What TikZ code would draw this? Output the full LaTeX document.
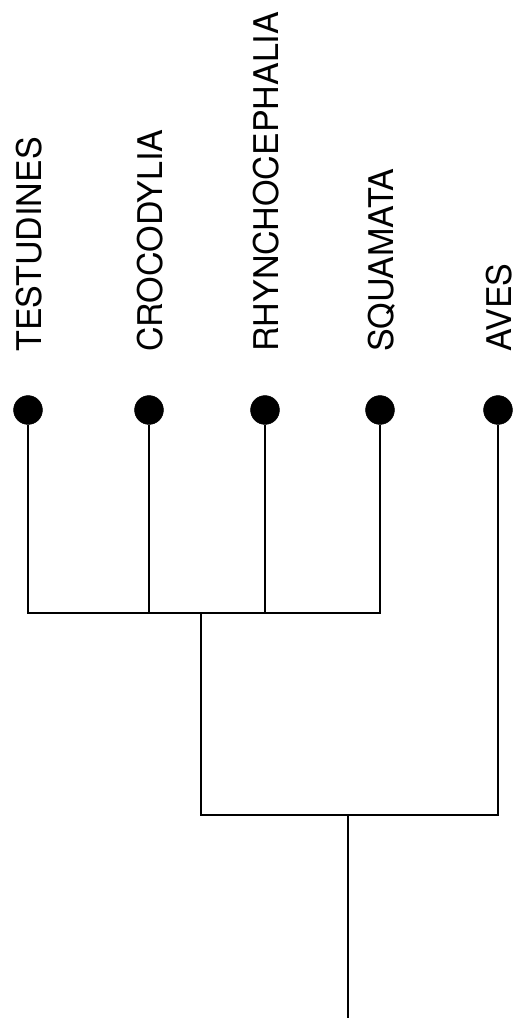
\documentclass[tikz,border=0pt]{standalone}
\usepackage{fontspec}
\setmainfont{TeX Gyre Heros}
\usetikzlibrary{positioning,calc}

\begin{document}
\begin{tikzpicture}
  [
    x=0.025cm, y=-0.025cm,
    Dot/.style={circle, draw=black, fill=black, inner sep=0pt, minimum size=0.72cm},
    Name/.style={rotate=90, anchor=base west, inner sep=0pt, font=\fontsize{24.2}{29}\selectfont},
    Branch/.style={draw, line width=2.1pt, line join=miter}
  ]
  \useasboundingbox (0,0) rectangle (520,1020);
  % Nodes
  \node[Dot] (testudines) at (28,410) {};
  \node[Dot] (crocodylia) at (149,410) {};
  \node[Dot] (rhynchocephalia) at (265,410) {};
  \node[Dot] (squamata) at (380,410) {};
  \node[Dot] (aves) at (498,410) {};
  % Labels
  \node[Name] (lTestudines) at (41,352) {TESTUDINES};
  \node[Name] (lCrocodylia) at (162,352) {CROCODYLIA};
  \node[Name] (lRhynchocephalia) at (278,352) {RHYNCHOCEPHALIA};
  \node[Name] (lSquamata) at (393,352) {SQUAMATA};
  \node[Name] (lAves) at (511,352) {AVES};
  % Junctions
  \coordinate (inner) at (201,613);
  \coordinate (outer) at (201,815);
  \coordinate (root) at (348,815);
  \coordinate (base) at (348,1018);
  % Lines
  \path [Branch] (testudines) |- (inner) -| (squamata);
  \path [Branch] (crocodylia) -- (crocodylia |- inner);
  \path [Branch] (rhynchocephalia) -- (rhynchocephalia |- inner);
  \path [Branch] (inner) -- (outer) -| (aves);
  \path [Branch] (root) -- (base);
\end{tikzpicture}
\end{document}
